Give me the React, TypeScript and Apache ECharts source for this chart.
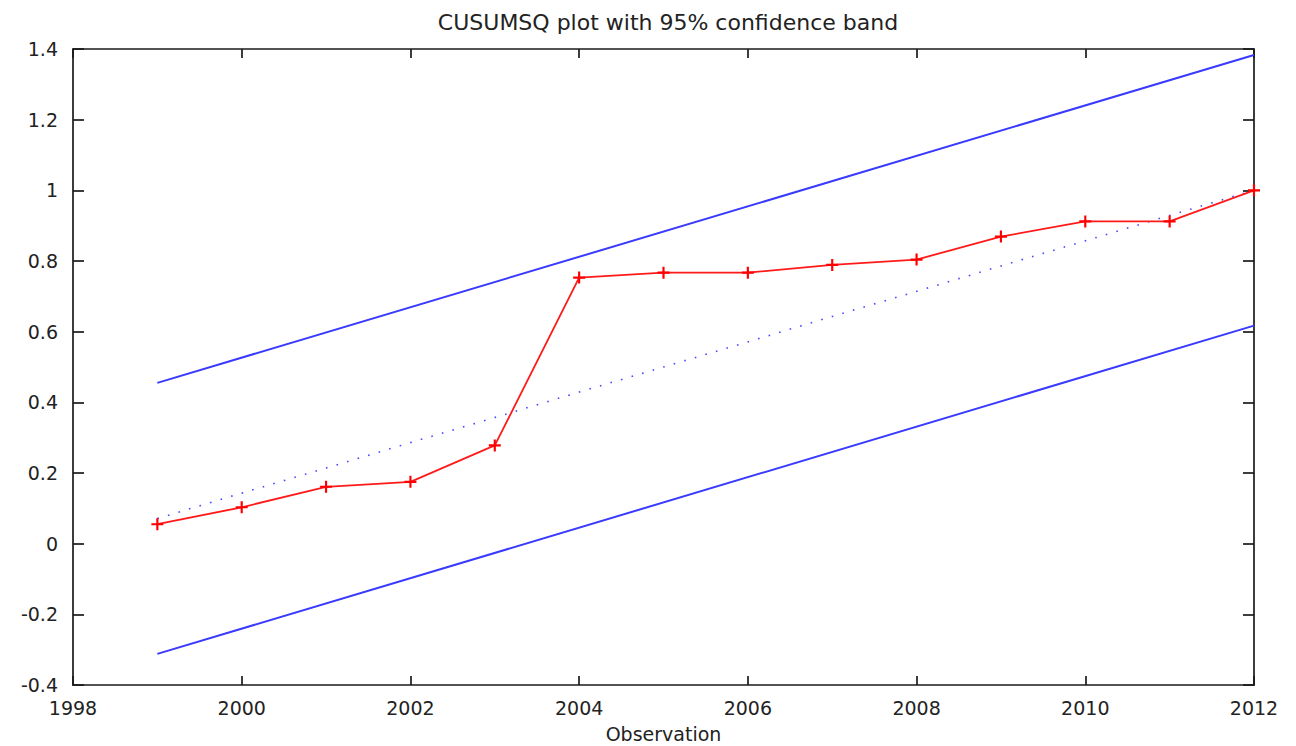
import React, { useEffect, useRef } from "react";
import * as echarts from "echarts";

const years = [1999, 2000, 2001, 2002, 2003, 2004, 2005, 2006, 2007, 2008, 2009, 2010, 2011, 2012];
const cusumsq = [0.055, 0.103, 0.161, 0.175, 0.278, 0.753, 0.767, 0.767, 0.789, 0.804, 0.869, 0.912, 0.912, 1.0];
const expected = [0.071, 0.143, 0.214, 0.286, 0.357, 0.429, 0.5, 0.571, 0.643, 0.714, 0.786, 0.857, 0.929, 1.0];
const bandYears = [1999, 2012];
const upperBand = [0.455, 1.383];
const lowerBand = [-0.312, 0.617];

const title = "CUSUMSQ plot with 95% confidence band";
const xName = "Observation";

const FONT = "DejaVu Sans";
const BLUE = "#3a3aff";
const RED = "#ff1a1a";
const AXIS = "#1a1a1a";

const zip = (xs: number[], ys: number[]) => xs.map((x, i) => [x, ys[i]]);

export default function App() {
  const ref = useRef<HTMLDivElement>(null);
  useEffect(() => {
    if (!ref.current) return;
    const chart = echarts.init(ref.current, undefined, { renderer: "svg" });
    const axisLine = { show: true, onZero: false, lineStyle: { color: AXIS, width: 1.7 } };
    chart.setOption({
      animation: false,
      backgroundColor: "#ffffff",
      title: {
        text: title,
        left: 663,
        textAlign: "center",
        top: 6,
        textStyle: { fontFamily: FONT, fontSize: 22, fontWeight: "normal", color: "#222" },
      },
      grid: { left: 73, right: 42, top: 49, bottom: 61, containLabel: false, outerBoundsMode: "none" },
      xAxis: [
        {
          type: "value",
          min: 1998,
          max: 2012,
          interval: 2,
          position: "bottom",
          name: xName,
          nameLocation: "middle",
          nameGap: 39,
          nameTextStyle: { fontFamily: FONT, fontSize: 19, color: "#222", lineHeight: 19 },
          axisLine,
          axisTick: { show: true, inside: true, length: 9, lineStyle: { color: AXIS, width: 1.7 } },
          axisLabel: {
            fontFamily: FONT,
            fontSize: 19,
            color: "#222",
            margin: 13,
            formatter: (v: number) => String(v),
          },
          splitLine: { show: false },
        },
        {
          type: "value",
          min: 1998,
          max: 2012,
          interval: 2,
          position: "top",
          axisLine,
          axisTick: { show: true, inside: true, length: 9, lineStyle: { color: AXIS, width: 1.7 } },
          axisLabel: { show: false },
          splitLine: { show: false },
        },
      ],
      yAxis: [
        {
          type: "value",
          min: -0.4,
          max: 1.4,
          interval: 0.2,
          position: "left",
          axisLine,
          axisTick: { show: true, inside: true, length: 11, lineStyle: { color: AXIS, width: 1.7 } },
          axisLabel: { fontFamily: FONT, fontSize: 19, color: "#222", margin: 15 },
          splitLine: { show: false },
        },
        {
          type: "value",
          min: -0.4,
          max: 1.4,
          interval: 0.2,
          position: "right",
          axisLine,
          axisTick: { show: true, inside: true, length: 11, lineStyle: { color: AXIS, width: 1.7 } },
          axisLabel: { show: false },
          splitLine: { show: false },
        },
      ],
      series: [
        {
          type: "line",
          data: zip(bandYears, upperBand),
          showSymbol: false,
          symbol: "none",
          lineStyle: { color: BLUE, width: 2 },
          silent: true,
        },
        {
          type: "line",
          data: zip(bandYears, lowerBand),
          showSymbol: false,
          symbol: "none",
          lineStyle: { color: BLUE, width: 2 },
          silent: true,
        },
        {
          type: "line",
          data: zip(years, expected),
          showSymbol: false,
          symbol: "none",
          lineStyle: { color: "#4a4aff", width: 1.6, type: [1.6, 9.4] },
          silent: true,
        },
        {
          type: "line",
          data: zip(years, cusumsq),
          clip: false,
          symbol: "path://M4.1,0H5.9V4.1H10V5.9H5.9V10H4.1V5.9H0V4.1H4.1Z",
          symbolSize: 12,
          itemStyle: { color: "#ff0000" },
          lineStyle: { color: RED, width: 1.8 },
          z: 5,
        },
      ],
    });
    return () => chart.dispose();
  }, []);
  return (
    <div
      ref={ref}
      style={{ position: "fixed", left: 0, top: 0, width: 1296, height: 746, background: "#fff" }}
    />
  );
}
